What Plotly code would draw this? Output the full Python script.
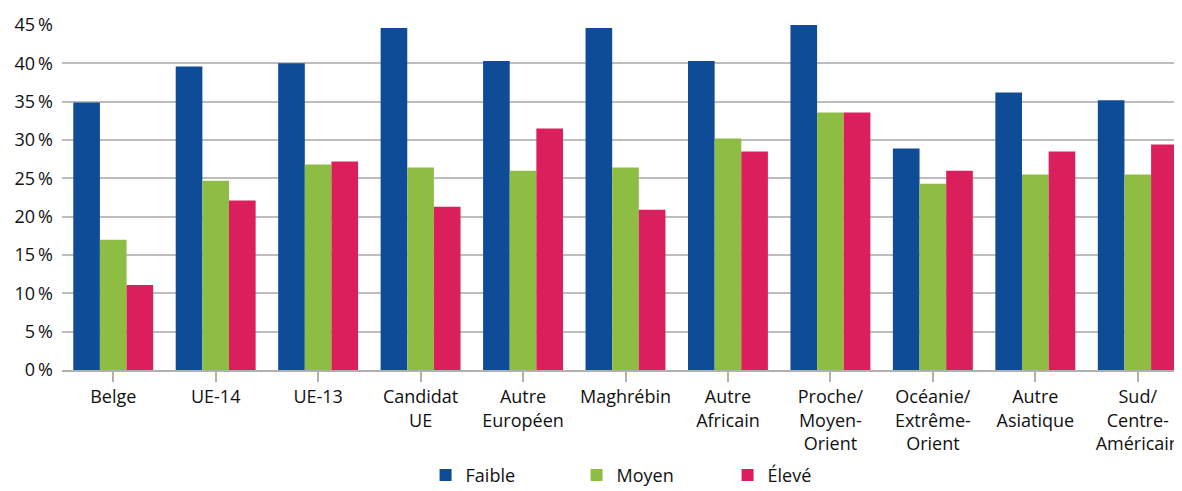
import plotly.graph_objects as go

categories = [
    "Belge", "UE-14", "UE-13", "Candidat<br>UE", "Autre<br>Européen", "Maghrébin",
    "Autre<br>Africain", "Proche/<br>Moyen-<br>Orient", "Océanie/<br>Extrême-<br>Orient",
    "Autre<br>Asiatique", "Sud/<br>Centre-<br>Américain",
]
faible = [34.9, 39.6, 40.0, 44.6, 40.3, 44.6, 40.3, 45.0, 28.9, 36.2, 35.2]
moyen = [17.0, 24.7, 26.8, 26.4, 26.0, 26.4, 30.2, 33.6, 24.3, 25.5, 25.5]
eleve = [11.1, 22.1, 27.2, 21.3, 31.5, 20.9, 28.5, 33.6, 26.0, 28.5, 29.4]

y_ticks = [0, 5, 10, 15, 20, 25, 30, 35, 40, 45]
y_labels = [f"{v}\u2009%" for v in y_ticks]

series = [("Faible", faible, "#0f4c97"), ("Moyen", moyen, "#8dbe43"), ("Élevé", eleve, "#da1f5c")]

fig = go.Figure()
for name, vals, color in series:
    fig.add_trace(go.Bar(x=list(range(len(categories))), y=vals, name=name,
                         marker=dict(color=color, line=dict(width=0))))

# the page body adds an 8px offset, so margins are shifted to compensate
font_family = "'Open Sans', 'Noto Sans', sans-serif"
fig.update_layout(
    width=1182, height=491,
    barmode="group", bargap=0.22, bargroupgap=0,
    paper_bgcolor="white", plot_bgcolor="white",
    font=dict(family=font_family, size=18, color="#111111"),
    margin=dict(l=54, r=1, t=17, b=129, autoexpand=False),
    showlegend=True,
    legend=dict(orientation="h", x=0.3226, xanchor="left", y=-0.305, yanchor="middle",
                entrywidth=106, entrywidthmode="pixels",
                font=dict(size=18), traceorder="normal"),
    xaxis=dict(
        tickmode="array", tickvals=list(range(len(categories))), ticktext=categories,
        range=[-0.5, len(categories) - 0.5], automargin=False,
        tickson="boundaries", ticks="outside", ticklen=10, tickcolor="#b0b0b0", tickwidth=1.5,
        showline=True, linecolor="#b0b0b0", linewidth=1.5,
        showgrid=False, tickangle=0,
    ),
    yaxis=dict(
        tickmode="array", tickvals=y_ticks, ticktext=y_labels,
        range=[0, 45], showgrid=True, gridcolor="#bdbdbd", gridwidth=1.5, automargin=False,
        zeroline=False, showline=False, ticks="", ticklabelstandoff=8,
    ),
)

fig.write_html("out.html")
